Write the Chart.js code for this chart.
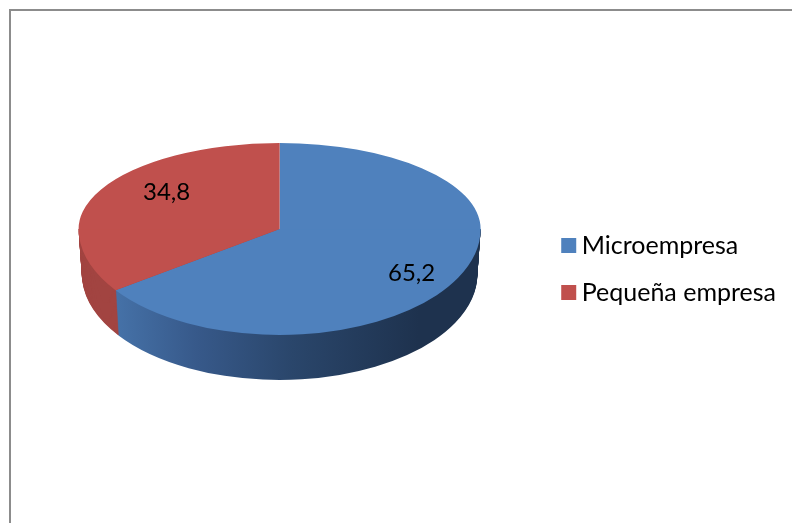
<!DOCTYPE html>
<html>
<head>
<meta charset="utf-8">
<style>
  html, body { margin: 0; padding: 0; background: #fff; }
  canvas { display: block; }
</style>
<script src="https://cdn.jsdelivr.net/npm/chart.js@4/dist/chart.umd.js"></script>
</head>
<body>
<canvas id="chart" width="792" height="523"></canvas>
<script>
const categories = ['Microempresa', 'Pequeña empresa'];
const values = [65.2, 34.8];
const colors = ['#4f81bd', '#c0504d'];

// flattened pie, the upper half is squashed more than the lower one (fake perspective)
const apexY = 229;
const upperSquash = 86 / 201;
const lowerSquash = 106 / 201;
const depth = 45;
const labelOffsets = [[132, 44], [-113, -37]];

function sideFill(ctx, index) {
  const g = ctx.createLinearGradient(100, 0, 420, 0);
  if (index === 0) {
    g.addColorStop(0, '#4876ad');
    g.addColorStop(0.3, '#37598a');
    g.addColorStop(0.6, '#2a466b');
    g.addColorStop(1, '#1e324e');
  } else {
    return '#a24441';
  }
  return g;
}

function drawSquashed(ctx, arc, squash, dy, shrink) {
  ctx.save();
  ctx.translate(arc.x, apexY + dy);
  ctx.scale(shrink, squash);
  ctx.translate(-arc.x, -arc.y);
  arc.draw(ctx);
  ctx.restore();
}

const pie3d = {
  id: 'pie3d',
  beforeDraw(chart) {
    const ctx = chart.ctx;
    ctx.save();
    ctx.fillStyle = '#8c8c8c';
    ctx.fillRect(9, 9, 783, 2);
    ctx.fillRect(9, 9, 2, 514);
    ctx.restore();
  },
  beforeDatasetsDraw(chart) {
    const ctx = chart.ctx;
    const arcs = chart.getDatasetMeta(0).data;

    // side wall
    ctx.save();
    ctx.beginPath();
    ctx.rect(0, apexY, 792, 523 - apexY);
    ctx.clip();
    for (let dy = depth; dy >= 1; dy--) {
      const shrink = 1 - 0.016 * dy / depth;
      arcs.forEach((arc, i) => {
        const saved = arc.options;
        arc.options = Object.create(saved, {
          backgroundColor: { value: sideFill(ctx, i) },
          borderWidth: { value: 0 },
        });
        drawSquashed(ctx, arc, lowerSquash, dy, shrink);
        arc.options = saved;
      });
    }
    ctx.restore();

    // top face
    ctx.save();
    ctx.beginPath();
    ctx.rect(0, apexY, 792, 523 - apexY);
    ctx.clip();
    arcs.forEach(arc => drawSquashed(ctx, arc, lowerSquash, 0, 1));
    ctx.restore();

    ctx.save();
    ctx.beginPath();
    ctx.rect(0, 0, 792, apexY + 0.5);
    ctx.clip();
    arcs.forEach(arc => drawSquashed(ctx, arc, upperSquash, 0, 1));
    ctx.restore();

    // value labels
    ctx.save();
    ctx.fillStyle = '#000';
    ctx.font = '24px Lato';
    ctx.textAlign = 'center';
    ctx.textBaseline = 'middle';
    arcs.forEach((arc, i) => {
      const text = values[i].toFixed(1).replace('.', ',');
      ctx.fillText(text, arc.x + labelOffsets[i][0], apexY + labelOffsets[i][1]);
    });
    ctx.restore();

    return false;
  },
};

new Chart(document.getElementById('chart'), {
  type: 'pie',
  data: {
    labels: categories,
    datasets: [{
      data: values,
      backgroundColor: colors,
      borderWidth: 0,
      radius: 201,
    }],
  },
  plugins: [pie3d],
  options: {
    responsive: false,
    animation: false,
    layout: { padding: { left: 13, right: 6, top: 15, bottom: 0 } },
    plugins: {
      tooltip: { enabled: false },
      legend: {
        position: 'right',
        labels: {
          usePointStyle: true,
          pointStyle: 'rect',
          boxWidth: 1,
          boxHeight: 15,
          padding: 22,
          color: '#000',
          font: { family: 'Lato', size: 25 },
        },
      },
    },
  },
});
</script>
</body>
</html>
